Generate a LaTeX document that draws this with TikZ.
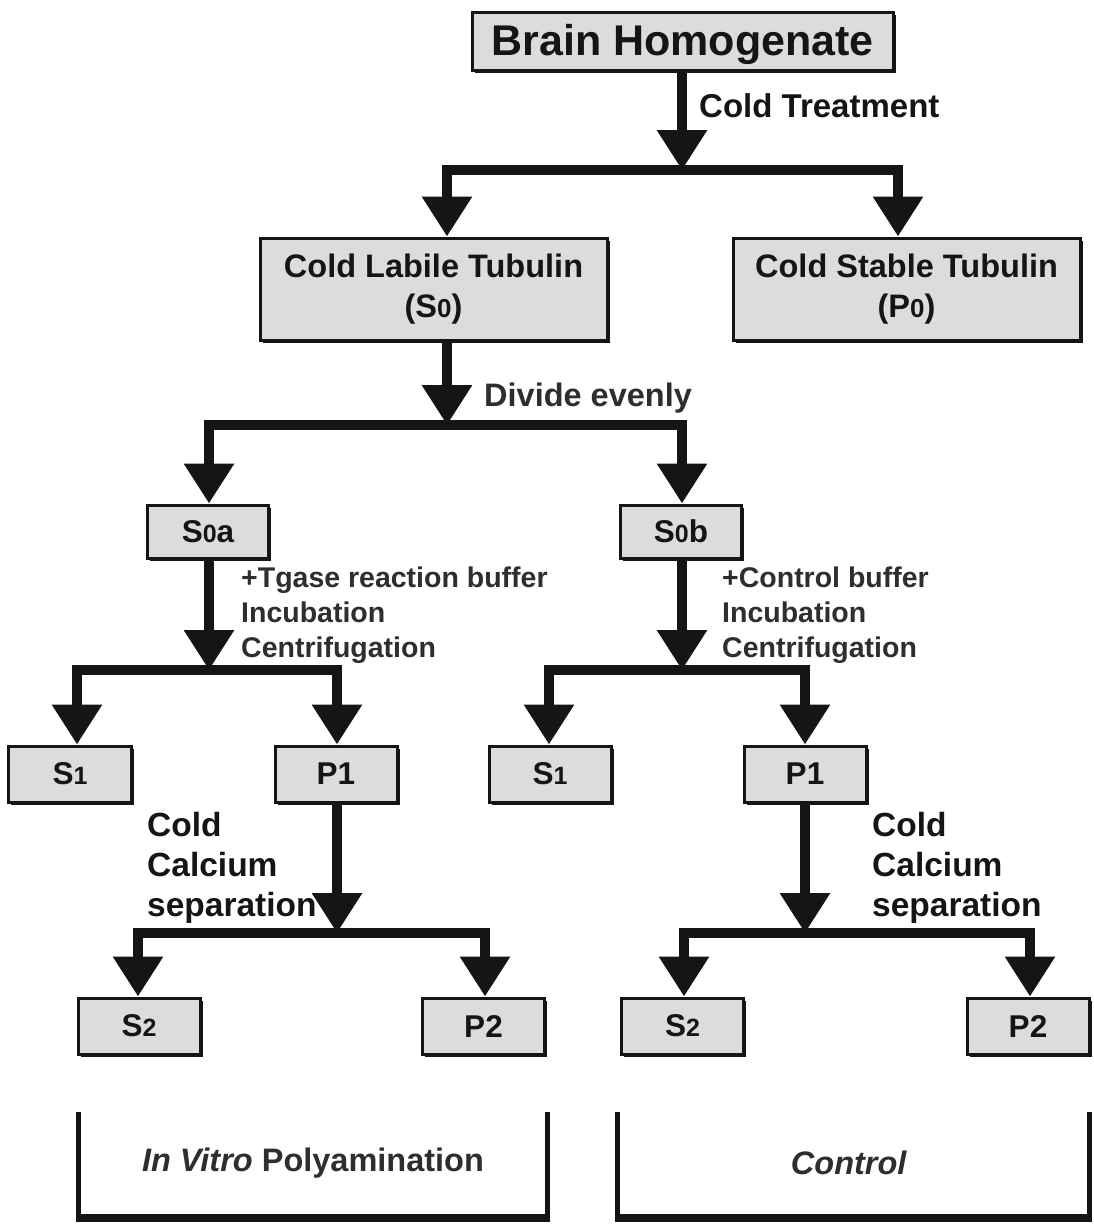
\documentclass[tikz,border=0pt]{standalone}
\usepackage{fontspec}
\setmainfont{Liberation Sans}
\usetikzlibrary{arrows.meta,shadows}
\definecolor{boxgray}{HTML}{DCDCDC}
\definecolor{ink}{HTML}{151515}
\definecolor{labink}{HTML}{2E2E2E}
\newcommand\fBig{\fontsize{43}{48}\selectfont\bfseries}
\newcommand\fMid{\fontsize{32.5}{40}\selectfont\bfseries}
\newcommand\fLab{\fontsize{28.5}{35}\selectfont\bfseries}
\newcommand\fCal{\fontsize{33.5}{40}\selectfont\bfseries}
\newcommand\fBox{\fontsize{31.5}{36}\selectfont\bfseries}
\newcommand\sdig[1]{{\fontsize{25}{28}\selectfont #1}}
\newcommand\mdig[1]{{\fontsize{26}{30}\selectfont #1}}
\begin{document}
\begin{tikzpicture}[x=1pt,y=-1pt,
  box/.style={draw=ink, line width=3pt, fill=boxgray, inner sep=0pt, text=ink,
    drop shadow={shadow xshift=2.5pt, shadow yshift=-2.5pt, fill=ink, opacity=1}},
  flowarr/.style={draw=ink, line width=9.5pt, -{Triangle[width=48pt,length=40pt]}},
  lab/.style={anchor=west, align=left, inner sep=0pt, text=labink},
  brk/.style={draw=ink, line width=5pt},
  brkbase/.style={draw=ink, line width=8pt}]
\useasboundingbox (0,0) rectangle (1094,1226);

% boxes
\node[box, minimum width=421pt, minimum height=58pt, font=\fBig, text height=31pt, text depth=2pt] (bh) at (682.5,41) {Brain Homogenate};
\node[box, minimum width=347pt, minimum height=102pt, font=\fMid, align=center] (clt) at (433.5,289) {Cold Labile Tubulin\\(S\mdig{0})};
\node[box, minimum width=347pt, minimum height=102pt, font=\fMid, align=center] (cst) at (906.5,289) {Cold Stable Tubulin\\(P\mdig{0})};
\node[box, minimum width=121pt, minimum height=53pt, font=\fBox] (s0a) at (208,531.5) {S\sdig{0}a};
\node[box, minimum width=121pt, minimum height=53pt, font=\fBox] (s0b) at (681,531.5) {S\sdig{0}b};
\node[box, minimum width=123pt, minimum height=56pt, font=\fBox] (s1l) at (70,774) {S\sdig{1}};
\node[box, minimum width=122pt, minimum height=56pt, font=\fBox] (p1l) at (336,774) {P1};
\node[box, minimum width=122pt, minimum height=56pt, font=\fBox] (s1r) at (550,774) {S\sdig{1}};
\node[box, minimum width=122pt, minimum height=56pt, font=\fBox] (p1r) at (805,774) {P1};
\node[box, minimum width=122pt, minimum height=56pt, font=\fBox] (s2l) at (139,1026) {S\sdig{2}};
\node[box, minimum width=122pt, minimum height=56pt, font=\fBox] (p2l) at (483.5,1026) {P2};
\node[box, minimum width=122pt, minimum height=56pt, font=\fBox] (s2r) at (682.5,1026) {S\sdig{2}};
\node[box, minimum width=122pt, minimum height=56pt, font=\fBox] (p2r) at (1028,1026) {P2};

% fork points
\coordinate (f1) at (682,170);
\coordinate (f2) at (447,425);
\coordinate (f3l) at (209,670);
\coordinate (f3r) at (682,670);
\coordinate (f4l) at (337,933);
\coordinate (f4r) at (805,933);

% connectors
\draw[flowarr] (682,0 |- bh.south) -- (f1);
\draw[flowarr] (f1) -| (447,0 |- clt.north);
\draw[flowarr] (f1) -| (898,0 |- cst.north);

\draw[flowarr] (447,0 |- clt.south) -- (f2);
\draw[flowarr] (f2) -| (209,0 |- s0a.north);
\draw[flowarr] (f2) -| (682,0 |- s0b.north);

\draw[flowarr] (209,0 |- s0a.south) -- (f3l);
\draw[flowarr] (f3l) -| (77,0 |- s1l.north);
\draw[flowarr] (f3l) -| (337,0 |- p1l.north);

\draw[flowarr] (682,0 |- s0b.south) -- (f3r);
\draw[flowarr] (f3r) -| (549,0 |- s1r.north);
\draw[flowarr] (f3r) -| (805,0 |- p1r.north);

\draw[flowarr] (337,0 |- p1l.south) -- (f4l);
\draw[flowarr] (f4l) -| (138,0 |- s2l.north);
\draw[flowarr] (f4l) -| (485,0 |- p2l.north);

\draw[flowarr] (805,0 |- p1r.south) -- (f4r);
\draw[flowarr] (f4r) -| (684,0 |- s2r.north);
\draw[flowarr] (f4r) -| (1030,0 |- p2r.north);

% labels
\node[lab, text=ink, font=\fontsize{33}{40}\selectfont\bfseries] (lct) at (699,106) {Cold Treatment};
\node[lab, font=\fMid] (lde) at (484,398) {Divide evenly};
\node[lab, font=\fLab] (ltg) at (241,615) {+Tgase reaction buffer\\Incubation\\Centrifugation};
\node[lab, font=\fLab] (lcb) at (722,615) {+Control buffer\\Incubation\\Centrifugation};
\node[lab, text=ink, font=\fCal] (lcl) at (147,868) {Cold\\Calcium\\separation};
\node[lab, text=ink, font=\fCal] (lcr) at (872,868) {Cold\\Calcium\\separation};

% brackets
\draw[brk] (78,1112) -- (78,1218);
\draw[brk] (547,1112) -- (547,1218);
\draw[brkbase] (75.5,1218) -- (549.5,1218);
\draw[brk] (617,1112) -- (617,1218);
\draw[brk] (1089,1112) -- (1089,1218);
\draw[brkbase] (614.5,1218) -- (1091.5,1218);
\node[text=labink, font=\fontsize{32.5}{38}\selectfont\bfseries] (tiv) at (313,1163) {\textit{In Vitro} Polyamination};
\node[text=labink, font=\fontsize{32.5}{38}\selectfont\bfseries] (tct) at (849,1163) {\textit{Control}};
\end{tikzpicture}
\end{document}
